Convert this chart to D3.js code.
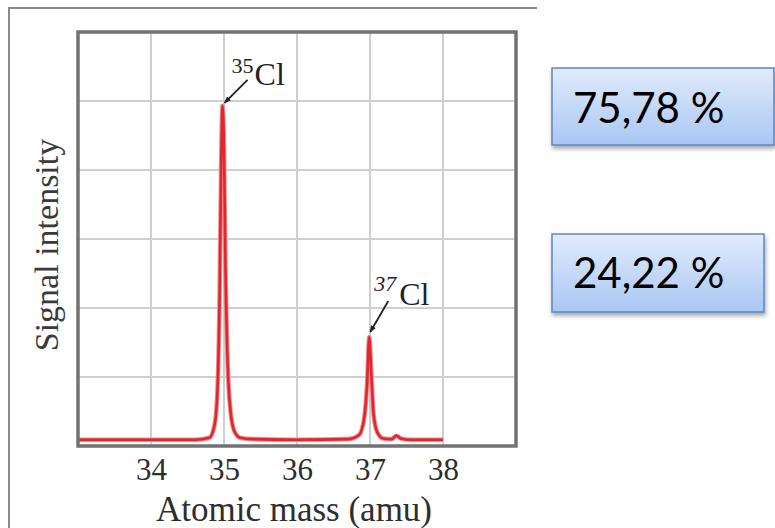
<!DOCTYPE html>
<html>
<head>
<meta charset="utf-8">
<script src="https://cdn.jsdelivr.net/npm/d3@7"></script>
<style>
  body { margin: 0; background: #fff; }
  svg { display: block; }
</style>
</head>
<body>
<svg width="775" height="528"></svg>
<script>
// axis ticks and grid
const massTicks = [34, 35, 36, 37, 38];
const intensityGrid = [1, 2, 3, 4, 5];

// spectrum trace (mass in amu, intensity in grid units)
const spectrumMass = [33.0, 34.0, 34.6, 34.8, 34.87, 34.91, 34.94, 34.96, 34.98, 35.0, 35.02, 35.05, 35.09, 35.14,
  35.22, 35.4, 36.0, 36.7, 36.85, 36.92, 36.96, 36.99, 37.02, 37.05, 37.1, 37.18, 37.3, 37.36, 37.42, 37.55, 38.0];
const spectrumIntensity = [0.09, 0.09, 0.09, 0.12, 0.3, 0.8, 2.2, 4.0, 4.93, 4.3, 2.6, 1.2, 0.5, 0.22,
  0.12, 0.1, 0.09, 0.1, 0.16, 0.4, 0.9, 1.58, 1.0, 0.45, 0.2, 0.11, 0.1, 0.15, 0.11, 0.09, 0.09];

// peaks and abundances
const isotopes = ["35", "37"];
const peakMass = [34.98, 36.99];
const peakIntensity = [4.93, 1.58];
const abundance = [75.78, 24.22];

const svg = d3.select("svg");
const x = d3.scaleLinear().domain([33, 39]).range([78, 516]);
const y = d3.scaleLinear().domain([0, 6]).range([446, 32]);

const serif = "'Liberation Serif', 'Times New Roman', serif";

// outer frame (top + left edges of the cropped figure)
svg.append("path")
  .attr("d", "M9,528V8H537")
  .attr("fill", "none")
  .attr("stroke", "#8a8a8a")
  .attr("stroke-width", 2);

// grid
svg.append("g")
  .selectAll("line")
  .data(massTicks)
  .join("line")
  .attr("x1", d => x(d)).attr("x2", d => x(d))
  .attr("y1", y(6)).attr("y2", y(0))
  .attr("stroke", "#cfcfd3")
  .attr("stroke-width", 2);

svg.append("g")
  .selectAll("line")
  .data(intensityGrid)
  .join("line")
  .attr("x1", x(33)).attr("x2", x(39))
  .attr("y1", d => y(d)).attr("y2", d => y(d))
  .attr("stroke", "#cfcfd3")
  .attr("stroke-width", 2);

// spectrum
const pts = spectrumMass.map((m, i) => [m, spectrumIntensity[i]]);
const line = d3.line()
  .x(d => x(d[0]))
  .y(d => y(d[1]))
  .curve(d3.curveMonotoneX);

svg.append("path")
  .datum(pts)
  .attr("d", line)
  .attr("fill", "none")
  .attr("stroke", "#f08a8c")
  .attr("stroke-width", 4.5)
  .attr("stroke-linejoin", "round");

svg.append("path")
  .datum(pts)
  .attr("d", line)
  .attr("fill", "none")
  .attr("stroke", "#e1262e")
  .attr("stroke-width", 2.6)
  .attr("stroke-linejoin", "round");

// plot frame
svg.append("rect")
  .attr("x", x(33)).attr("y", y(6))
  .attr("width", x(39) - x(33))
  .attr("height", y(0) - y(6))
  .attr("fill", "none")
  .attr("stroke", "#727272")
  .attr("stroke-width", 3.5);

// x axis labels
const xAxis = svg.append("g")
  .attr("transform", `translate(0,${y(0)})`)
  .call(d3.axisBottom(x).tickValues(massTicks).tickFormat(d3.format("d")).tickSize(0).tickPadding(12));
xAxis.select(".domain").remove();
xAxis.selectAll("text")
  .attr("font-family", serif)
  .attr("font-size", 31)
  .attr("fill", "#2e2e2e");

svg.append("text")
  .attr("x", (x(33) + x(39)) / 2 - 3)
  .attr("y", 521)
  .attr("text-anchor", "middle")
  .attr("font-family", serif)
  .attr("font-size", 35)
  .attr("fill", "#2e2e2e")
  .text("Atomic mass (amu)");

svg.append("text")
  .attr("transform", "translate(58,245) rotate(-90)")
  .attr("text-anchor", "middle")
  .attr("font-family", serif)
  .attr("font-size", 34)
  .attr("fill", "#3a3a3a")
  .text("Signal intensity");

// peak annotations
const defs = svg.append("defs");
defs.append("marker")
  .attr("id", "arrow")
  .attr("viewBox", "0 0 10 10")
  .attr("refX", 9).attr("refY", 5)
  .attr("markerWidth", 7).attr("markerHeight", 7)
  .attr("markerUnits", "userSpaceOnUse")
  .attr("orient", "auto")
  .append("path")
  .attr("d", "M0,1L10,5L0,9Z")
  .attr("fill", "#222");

const layout = [
  { a0: [25, -26], a1: [2, -3], sup: [9, -33], cl: [32, -21], italic: false },
  { a0: [19, -36], a1: [1, -5], sup: [5, -46], cl: [30, -32], italic: true }
];

isotopes.forEach((iso, i) => {
  const tx = x(peakMass[i]), ty = y(peakIntensity[i]);
  const L = layout[i];
  svg.append("line")
    .attr("x1", tx + L.a0[0]).attr("y1", ty + L.a0[1])
    .attr("x2", tx + L.a1[0]).attr("y2", ty + L.a1[1])
    .attr("stroke", "#222")
    .attr("stroke-width", 1.8)
    .attr("marker-end", "url(#arrow)");
  svg.append("text")
    .attr("x", tx + L.sup[0]).attr("y", ty + L.sup[1])
    .attr("font-family", serif)
    .attr("font-size", 22)
    .attr("font-style", L.italic ? "italic" : "normal")
    .attr("fill", "#222")
    .text(iso);
  svg.append("text")
    .attr("x", tx + L.cl[0]).attr("y", ty + L.cl[1])
    .attr("font-family", serif)
    .attr("font-size", 32)
    .attr("fill", "#222")
    .text("Cl");
});

// abundance boxes
const grad = defs.append("linearGradient")
  .attr("id", "boxfill")
  .attr("x1", 0).attr("y1", 0).attr("x2", 0).attr("y2", 1);
grad.append("stop").attr("offset", "0%").attr("stop-color", "#e1ebfc");
grad.append("stop").attr("offset", "100%").attr("stop-color", "#a9c7f4");

const shadow = defs.append("filter")
  .attr("id", "shadow")
  .attr("x", "-10%").attr("y", "-10%")
  .attr("width", "130%").attr("height", "140%");
shadow.append("feDropShadow")
  .attr("dx", 1).attr("dy", 3)
  .attr("stdDeviation", 2)
  .attr("flood-color", "#000")
  .attr("flood-opacity", 0.35);

const boxes = [
  { x: 552, y: 68, w: 222, h: 77, base: 123 },
  { x: 552, y: 234, w: 212, h: 78, base: 288 }
];
const fmt = v => d3.format(".2f")(v).replace(".", ",") + " %";

svg.append("g")
  .selectAll("rect")
  .data(abundance)
  .join("rect")
  .attr("x", (d, i) => boxes[i].x)
  .attr("y", (d, i) => boxes[i].y)
  .attr("width", (d, i) => boxes[i].w)
  .attr("height", (d, i) => boxes[i].h)
  .attr("fill", "url(#boxfill)")
  .attr("stroke", "#5b87c6")
  .attr("stroke-width", 1.5)
  .attr("filter", "url(#shadow)");

svg.append("g")
  .selectAll("text")
  .data(abundance)
  .join("text")
  .attr("x", (d, i) => boxes[i].x + 21)
  .attr("y", (d, i) => boxes[i].base)
  .attr("font-family", "Lato, 'Open Sans', sans-serif")
  .attr("font-size", 42)
  .attr("fill", "#000")
  .text(d => fmt(d));
</script>
</body>
</html>
